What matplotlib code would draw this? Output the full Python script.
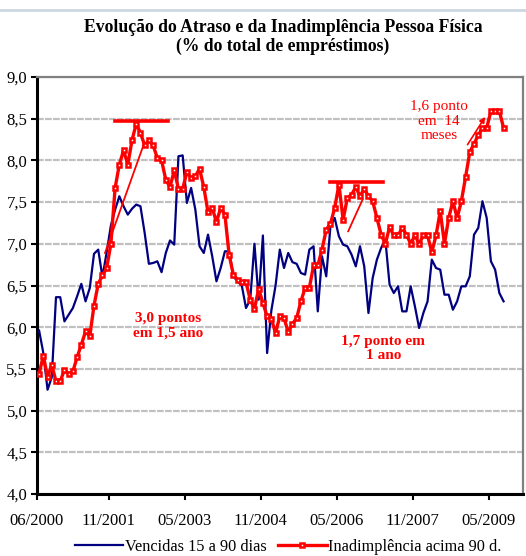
import matplotlib.pyplot as plt
import pandas as pd

# monthly series, 06/2000 onward (% of total loans)
vencidas = [
    5.96, 5.69, 5.25, 5.40, 6.36, 6.36, 6.07, 6.15, 6.23, 6.37,
    6.52, 6.31, 6.47, 6.88, 6.93, 6.60, 6.90, 7.22, 7.41, 7.57,
    7.45, 7.35, 7.42, 7.47, 7.45, 7.13, 6.76, 6.77, 6.79, 6.66,
    6.89, 7.04, 6.99, 8.05, 8.06, 7.49, 7.67, 7.41, 6.97, 6.89,
    7.11, 6.85, 6.55, 6.71, 6.91, 6.91, 6.61, 6.55, 6.50, 6.23,
    6.33, 7.00, 6.33, 7.10, 5.69, 6.20, 6.50, 6.93, 6.71, 6.89,
    6.78, 6.76, 6.65, 6.63, 6.93, 6.97, 6.19, 6.85, 6.61, 7.21,
    7.31, 7.09, 6.99, 6.97, 6.87, 6.73, 6.97, 6.73, 6.17, 6.59,
    6.81, 6.95, 7.05, 6.51, 6.41, 6.49, 6.19, 6.19, 6.49, 6.25,
    5.99, 6.17, 6.31, 6.81, 6.71, 6.69, 6.39, 6.39, 6.21, 6.31,
    6.49, 6.49, 6.61, 7.11, 7.19, 7.51, 7.31, 6.79, 6.69, 6.41,
    6.31]

inadimplencia = [
    5.44, 5.66, 5.40, 5.55, 5.35, 5.35, 5.49, 5.44, 5.47, 5.64,
    5.79, 5.95, 5.89, 6.26, 6.52, 6.62, 6.71, 7.00, 7.67, 7.95,
    8.12, 7.95, 8.24, 8.44, 8.33, 8.18, 8.24, 8.18, 8.03, 8.00,
    7.77, 7.68, 7.88, 7.66, 7.66, 7.86, 7.79, 7.81, 7.90, 7.68,
    7.38, 7.43, 7.26, 7.43, 7.35, 6.87, 6.63, 6.57, 6.54, 6.54,
    6.33, 6.22, 6.46, 6.29, 6.13, 6.10, 5.93, 6.13, 6.11, 5.94,
    6.04, 6.11, 6.31, 6.47, 6.47, 6.74, 6.74, 6.93, 7.17, 7.24,
    7.43, 7.71, 7.29, 7.55, 7.59, 7.68, 7.57, 7.66, 7.57, 7.51,
    7.31, 7.11, 7.00, 7.20, 7.10, 7.10, 7.19, 7.11, 7.00, 7.10,
    7.00, 7.10, 7.10, 6.90, 7.10, 7.39, 7.00, 7.31, 7.51, 7.31,
    7.51, 7.80, 8.10, 8.20, 8.30, 8.39, 8.39, 8.59, 8.59, 8.59,
    8.39]

tick_months = ['06/2000', '11/2001', '05/2003', '11/2004', '05/2006', '11/2007', '05/2009']

months = pd.period_range('2000-06', periods=len(inadimplencia), freq='M')
labels = [m.strftime('%m/%Y') for m in months]
x = list(range(len(months)))

plt.rcParams['font.family'] = ['Liberation Serif', 'DejaVu Serif']

fig = plt.figure(figsize=(5.26, 5.56), dpi=100)
ax = fig.add_axes([37/526, 1-494/556, 486/526, 417/556])

ax.plot(x, vencidas, color='#000080', lw=1.6, label='Vencidas 15 a 90 dias', zorder=3)
ax.plot(x, inadimplencia, color='#ff0000', lw=2.4, marker='s', ms=3.3,
        mfc='white', mec='#ff0000', mew=1.8, label='Inadimplência acima 90 d.', zorder=4)

# annotations
red = '#ff0000'
ax.plot([17.9, 30.5], [8.47, 8.47], color=red, lw=2.6, zorder=5)
ax.plot([15.6, 24.7], [6.89, 8.18], color=red, lw=1.3, zorder=5)
ax.plot([68.9, 81.5], [7.745, 7.745], color=red, lw=2.6, zorder=5)
ax.plot([73.2, 76.6], [7.15, 7.53], color=red, lw=1.3, zorder=5)
ax.annotate('', xy=(106.0, 8.55), xytext=(101.1, 8.16),
            arrowprops=dict(arrowstyle='-|>', color=red, lw=1.2, mutation_scale=8))
ax.text(30.6, 6.02, '3,0 pontos\nem 1,5 ano', color=red, fontsize=11, fontweight='bold',
        ha='center', va='center', linespacing=1.1)
ax.text(81.5, 5.74, '1,7 ponto em\n1 ano', color=red, fontsize=11, fontweight='bold',
        ha='center', va='center', linespacing=1.1)
ax.text(94.7, 8.47, '1,6 ponto\nem  14\nmeses', color=red, fontsize=11,
        ha='center', va='center', linespacing=1.15)

ax.set_ylim(4.0, 9.0)
ax.set_xlim(-0.5, 114.6)
yt = [4.0 + 0.5*i for i in range(11)]
ax.set_yticks(yt)
ax.set_yticklabels([('%.1f' % v).replace('.', ',') for v in yt], fontsize=12)
ax.set_xticks([labels.index(t) - 0.5 for t in tick_months])
ax.set_xticklabels(tick_months, fontsize=12)
ax.tick_params(axis='both', length=4, width=1.5, color='black', pad=3)
ax.tick_params(axis='x', pad=10)

ax.grid(axis='y', color='#c0c0c0', lw=1.6, linestyle=(0, (3, 0.6)))
ax.set_axisbelow(True)
for s in ['left', 'bottom']:
    ax.spines[s].set_linewidth(2.2)
    ax.spines[s].set_color('black')
for s in ['top', 'right']:
    ax.spines[s].set_linewidth(1.6)
    ax.spines[s].set_color('#808080')

fig.text(0.538, 1-27/556, 'Evolução do Atraso e da Inadimplência Pessoa Física',
         ha='center', va='center', fontsize=12.7, fontweight='bold')
fig.text(0.538, 1-46/556, '(% do total de empréstimos)',
         ha='center', va='center', fontsize=12.7, fontweight='bold')

fig.lines.append(plt.Line2D([0, 1], [1-10/556, 1-10/556], transform=fig.transFigure,
                            color='#cdd6df', lw=2))

fig.legend(loc='center', bbox_to_anchor=(0.548, 1-547/556), ncol=2, frameon=False,
           fontsize=11.7, handlelength=3.0, handletextpad=0.1, columnspacing=0.7,
           borderpad=0, borderaxespad=0)

plt.savefig('out.png', dpi=100)
